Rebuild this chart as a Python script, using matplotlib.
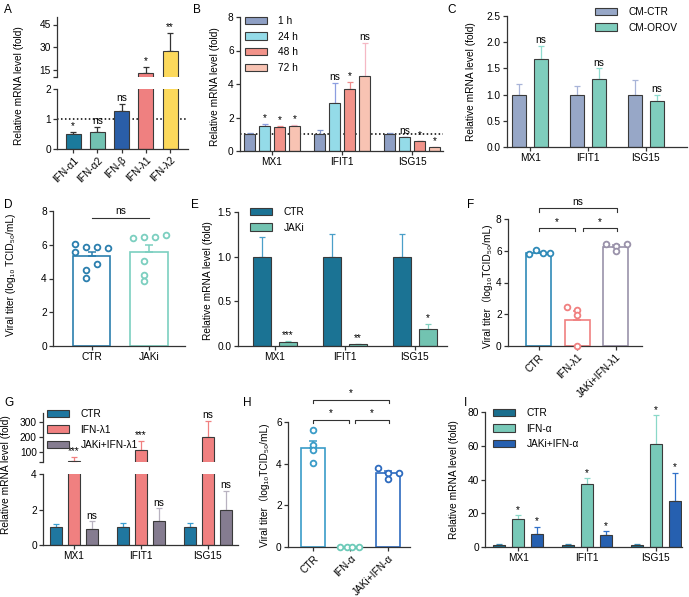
import numpy as np
import matplotlib
matplotlib.use("Agg")
import matplotlib.pyplot as plt
from matplotlib.patches import Patch

plt.rcParams['font.family'] = ['Liberation Sans', 'Noto Sans CJK SC', 'DejaVu Sans']
FS = 7.3
W, H = 689, 597
INK = '#333333'

# ---------------- data ----------------
genes = ["MX1", "IFIT1", "ISG15"]

# A: IFN expression
a_labels = ["IFN-α1", "IFN-α2", "IFN-β", "IFN-λ1", "IFN-λ2"]
a_mean = [0.5, 0.55, 1.28, 12.5, 27.5]
a_err = [0.08, 0.18, 0.22, 4.5, 12.0]
a_sig = ["*", "ns", "ns", "*", "**"]

# B: time course
b_times = ["1 h", "24 h", "48 h", "72 h"]
b_mean = [[1.0, 1.0, 1.0], [1.5, 2.85, 0.82], [1.45, 3.68, 0.6], [1.5, 4.47, 0.21]]
b_err = [[0.05, 0.25, 0.1], [0.1, 1.2, 0.04], [0.06, 0.43, 0.0], [0.05, 2.0, 0.02]]
b_sig = [["", "", ""], ["*", "ns", "ns"], ["*", "*", "*"], ["*", "ns", "*"]]

# C: conditioned medium
c_groups = ["CM-CTR", "CM-OROV"]
c_ctr = [1.0, 1.0, 1.0]
c_ctr_err = [0.21, 0.17, 0.27]
c_orov = [1.67, 1.3, 0.87]
c_orov_err = [0.26, 0.2, 0.13]
c_sig = ["ns", "ns", "ns"]

# D: viral titer, CTR vs JAKi
d_groups = ["CTR", "JAKi"]
d_mean = [5.32, 5.6]
d_err = [0.25, 0.4]
d_ctr_pts = [6.05, 5.6, 5.85, 5.85, 5.8, 4.52, 4.85, 4.05]
d_jaki_pts = [6.4, 6.45, 6.45, 6.55, 5.03, 4.22, 3.85]

# E: JAKi effect on ISGs
e_groups = ["CTR", "JAKi"]
e_ctr = [1.0, 1.0, 1.0]
e_ctr_err = [0.22, 0.25, 0.25]
e_jaki = [0.04, 0.02, 0.19]
e_jaki_err = [0.02, 0.005, 0.06]
e_sig = ["***", "**", "*"]

# F: viral titer with IFN-λ1
f_groups = ["CTR", "IFN-λ1", "JAKi+IFN-λ1"]
f_mean = [5.85, 1.65, 6.25]
f_err = [0.05, 0.55, 0.1]
f_pts = [[5.8, 6.05, 5.85, 5.85], [2.45, 2.25, 1.95, 0.0], [6.45, 6.3, 6.0, 6.4]]

# G: ISGs with IFN-λ1
g_groups = ["CTR", "IFN-λ1", "JAKi+IFN-λ1"]
g_ctr = [1.0, 1.0, 1.0]
g_ctr_err = [0.18, 0.22, 0.24]
g_ifn = [40, 115, 200]
g_ifn_err = [26, 58, 106]
g_jaki = [0.92, 1.38, 1.97]
g_jaki_err = [0.42, 0.68, 1.07]
g_ifn_sig = ["***", "***", "ns"]
g_jaki_sig = ["ns", "ns", "ns"]

# H: viral titer with IFN-α
h_groups = ["CTR", "IFN-α", "JAKi+IFN-α"]
h_mean = [4.75, 0.0, 3.55]
h_err = [0.35, 0.0, 0.1]
h_pts = [[5.6, 4.9, 4.65, 4.05], [0.0, 0.0, 0.0, 0.0], [3.8, 3.55, 3.25, 3.55]]

# I: ISGs with IFN-α
i_groups = ["CTR", "IFN-α", "JAKi+IFN-α"]
i_ctr = [1.0, 1.0, 1.0]
i_ctr_err = [0.5, 0.5, 0.5]
i_ifn = [16.5, 37.5, 61]
i_ifn_err = [2.2, 3.2, 17]
i_jaki = [8, 7, 27.5]
i_jaki_err = [3.7, 2.3, 16.5]
i_sig = ["*", "*", "*"]

fig = plt.figure(figsize=(W / 100, H / 100), dpi=100)


def add_ax(l, t, r, b):
    ax = fig.add_axes([l / W, 1 - b / H, (r - l) / W, (b - t) / H])
    for s in ['top', 'right']:
        ax.spines[s].set_visible(False)
    for s in ['left', 'bottom']:
        ax.spines[s].set_linewidth(0.9)
        ax.spines[s].set_color(INK)
    ax.tick_params(labelsize=FS, length=3, width=0.9, pad=1.5, color=INK)
    ax.patch.set_alpha(0)
    return ax


def bars(ax, x, mean, err, face, ecol, width, sig=None, edge='#3a3a3a', lw=0.8):
    x = np.asarray(x, dtype=float)
    ax.bar(x, mean, width, color=face, edgecolor=edge, linewidth=lw, zorder=2)
    ax.errorbar(x, mean, yerr=[np.zeros(len(mean)), err], fmt='none', ecolor=ecol,
                elinewidth=0.9, capsize=2.5, capthick=0.9, zorder=1.5)
    if sig:
        for xi, m, e, s in zip(x, mean, err, sig):
            if s:
                ax.annotate(s, (xi, m + e), xytext=(0, 0.5), textcoords='offset points',
                            ha='center', va='bottom', fontsize=FS)


def ylab(x, y, text):
    fig.text(x / W, 1 - y / H, text, rotation=90, ha='center', va='center', fontsize=FS)


def letter(x, y, t):
    fig.text(x / W, 1 - y / H, t, ha='left', va='center', fontsize=8.5)


def legend(labels, faces, x, y):
    handles = [Patch(facecolor=f, edgecolor='#3a3a3a', linewidth=0.8) for f in faces]
    fig.legend(handles, labels, loc='upper left', bbox_to_anchor=(x / W, 1 - y / H),
               bbox_transform=fig.transFigure, frameon=False, fontsize=FS,
               handlelength=2.2, handleheight=0.7, handletextpad=1.1,
               labelspacing=0.55, borderpad=0, borderaxespad=0)


def bracket(ax, x0, x1, y, h, text, hooks=True):
    if hooks:
        ax.plot([x0, x0, x1, x1], [y - h, y, y, y - h], color=INK, lw=0.8, clip_on=False)
    else:
        ax.plot([x0, x1], [y, y], color=INK, lw=0.8, clip_on=False)
    ax.annotate(text, ((x0 + x1) / 2, y), xytext=(0, 1), textcoords='offset points',
                ha='center', va='bottom', fontsize=FS, annotation_clip=False)


def points(ax, x, ys, offs, col):
    ax.scatter(np.full(len(ys), x) + np.asarray(offs[:len(ys)]), ys, s=17, facecolors='white',
               edgecolors=col, linewidths=1.3, zorder=3, clip_on=False)


def dotted(ax):
    ax.axhline(1, color='black', lw=1.1, ls=(0, (1, 1.6)), zorder=1)


# ---------------- A ----------------
a_cols = ['#1b7a9c', '#72c2b2', '#2a5ea8', '#ef8080', '#fcd95c']
axA1 = add_ax(57, 89, 188, 149)
axA2 = add_ax(57, 17, 188, 77)
xa = np.arange(len(a_labels))
for ax in (axA1, axA2):
    bars(ax, xa, a_mean, a_err, a_cols, INK, 0.62)
    ax.set_xlim(-0.66, 4.73)
for xi, m, e, s in zip(xa, a_mean, a_err, a_sig):
    ax = axA1 if m + e < 2 else axA2
    ax.annotate(s, (xi, m + e), xytext=(0, 0.5), textcoords='offset points',
                ha='center', va='bottom', fontsize=FS)
axA1.set_ylim(0, 2)
axA1.set_yticks([0, 1, 2])
dotted(axA1)
axA1.set_xticks(xa)
axA1.set_xticklabels(a_labels, rotation=45, ha='right', rotation_mode='anchor')
axA2.set_ylim(10, 50)
axA2.set_yticks([10, 15, 30, 45])
axA2.set_yticklabels(['', '15', '30', '45'])
axA2.spines['bottom'].set_visible(False)
axA2.set_xticks([])
ylab(19, 86, "Relative mRNA level (fold)")
letter(4, 10, "A")

# ---------------- B ----------------
b_cols = ['#8e9fc4', '#94dbe8', '#f2938a', '#f8c3b3']
b_ecols = ['#7f92c8', '#8c9ee0', '#f08c8c', '#f5b8c4']
b_offs = [-0.32, -0.107, 0.107, 0.32]
axB = add_ax(240, 17, 443, 151)
xg = np.arange(len(genes))
for k in range(len(b_times)):
    bars(axB, xg + b_offs[k], b_mean[k], b_err[k], b_cols[k], b_ecols[k], 0.16, b_sig[k])
dotted(axB)
axB.set_xlim(-0.457, 2.44)
axB.set_ylim(0, 8)
axB.set_yticks([0, 2, 4, 6, 8])
axB.set_xticks(xg)
axB.set_xticklabels(genes)
ylab(215, 87, "Relative mRNA level (fold)")
legend(b_times, b_cols, 245, 16)
letter(193, 10, "B")

# ---------------- C ----------------
c_cols = ['#97a7c7', '#7fcdbd']
axC = add_ax(507, 16, 687, 147)
bars(axC, xg - 0.19, c_ctr, c_ctr_err, c_cols[0], '#a8b4d8', 0.24)
bars(axC, xg + 0.19, c_orov, c_orov_err, c_cols[1], '#8fdccf', 0.24, c_sig)
axC.set_xlim(-0.40, 2.71)
axC.set_ylim(0, 2.5)
axC.set_yticks([0, 0.5, 1.0, 1.5, 2.0, 2.5])
axC.set_xticks(xg)
axC.set_xticklabels(genes)
ylab(471, 82, "Relative mRNA level (fold)")
legend(c_groups, c_cols, 595, 7)
letter(447, 10, "C")

# ---------------- D ----------------
d_cols = ['#2b7fae', '#7ccfc0']
axD = add_ax(53, 211, 185, 346)
for i, (pts, offs) in enumerate(zip([d_ctr_pts, d_jaki_pts],
                                   [[-0.3, -0.3, -0.1, 0.09, 0.28, -0.1, 0.09, -0.1],
                                    [-0.28, -0.09, 0.1, 0.3, -0.09, -0.09, -0.09]])):
    axD.bar(i, d_mean[i], 0.65, color='white', edgecolor=d_cols[i], linewidth=1.2, zorder=2)
    axD.errorbar(i, d_mean[i], yerr=[[0], [d_err[i]]], fmt='none', ecolor=d_cols[i],
                 elinewidth=1.1, capsize=3, capthick=1.1, zorder=2.5)
    points(axD, i, pts, offs, d_cols[i])
axD.set_xlim(-0.68, 1.63)
axD.set_ylim(0, 8)
axD.set_yticks([0, 2, 4, 6, 8])
axD.set_xticks([0, 1])
axD.set_xticklabels(d_groups)
bracket(axD, 0, 1, 7.6, 0, "ns", hooks=False)
ylab(11, 275, "Viral titer (log₁₀ TCID₅₀/mL)")
letter(4, 205, "D")

# ---------------- E ----------------
e_cols = ['#1b7394', '#72c3b1']
axE = add_ax(238, 212, 447, 346)
bars(axE, xg - 0.186, e_ctr, e_ctr_err, e_cols[0], '#4a9fc8', 0.25)
bars(axE, xg + 0.186, e_jaki, e_jaki_err, e_cols[1], '#80d0c0', 0.25, e_sig)
axE.set_xlim(-0.53, 2.46)
axE.set_ylim(0, 1.5)
axE.set_yticks([0, 0.5, 1.0, 1.5])
axE.set_xticks(xg)
axE.set_xticklabels(genes)
ylab(208, 281, "Relative mRNA level (fold)")
legend(e_groups, e_cols, 250, 207)
letter(191, 205, "E")

# ---------------- F ----------------
f_cols = ['#2f8ab8', '#f08080', '#9a92aa']
f_offs = [[-0.26, -0.08, 0.1, 0.29], [-0.26, 0, 0, 0], [-0.26, 0, 0, 0.28]]
axF = add_ax(508, 219, 642, 346)
for i in range(3):
    axF.bar(i, f_mean[i], 0.65, color='white', edgecolor=f_cols[i], linewidth=1.2, zorder=2)
    axF.errorbar(i, f_mean[i], yerr=[[0], [f_err[i]]], fmt='none', ecolor=f_cols[i],
                 elinewidth=1.1, capsize=3, capthick=1.1, zorder=2.5)
    points(axF, i, f_pts[i], f_offs[i], f_cols[i])
axF.set_xlim(-0.8, 2.68)
axF.set_ylim(0, 8)
axF.set_yticks([0, 2, 4, 6, 8])
axF.set_xticks([0, 1, 2])
axF.set_xticklabels(f_groups, rotation=45, ha='right', rotation_mode='anchor')
bracket(axF, 0, 0.94, 7.43, 0.2, "*")
bracket(axF, 1.14, 2.03, 7.43, 0.2, "*")
bracket(axF, 0, 2.03, 8.69, 0.25, "ns")
ylab(488, 286, "Viral titer（log₁₀TCID₅₀/mL)")
letter(467, 205, "F")

# ---------------- G ----------------
g_cols = ['#1f77a0', '#f08080', '#857c90']
g_ecols = ['#3a9ed0', '#f08080', '#b8b2c0']
axG1 = add_ax(43, 474, 238, 545)
axG2 = add_ax(43, 413, 238, 462)
for ax, upper in ((axG1, False), (axG2, True)):
    bars(ax, xg - 0.27, g_ctr, g_ctr_err, g_cols[0], g_ecols[0], 0.18)
    bars(ax, xg, g_ifn, g_ifn_err, g_cols[1], g_ecols[1], 0.18,
         g_ifn_sig if upper else None)
    bars(ax, xg + 0.27, g_jaki, g_jaki_err, g_cols[2], g_ecols[2], 0.18,
         None if upper else g_jaki_sig)
    ax.set_xlim(-0.46, 2.45)
axG1.set_ylim(0, 4)
axG1.set_yticks([0, 2, 4])
axG1.set_xticks(xg)
axG1.set_xticklabels(genes)
axG2.set_ylim(33, 360)
axG2.set_yticks([33, 100, 200, 300])
axG2.set_yticklabels(['', '100', '200', '300'])
axG2.spines['bottom'].set_visible(False)
axG2.set_xticks([])
ylab(6, 475, "Relative mRNA level (fold)")
legend(g_groups, g_cols, 47, 409)
letter(4, 403, "G")

# ---------------- H ----------------
h_cols = ['#3a9cc8', '#6ccab8', '#2e6bbf']
h_offs = [[0, 0, 0, 0], [-0.29, -0.1, 0.05, 0.24], [-0.27, 0, 0, 0.29]]
axH = add_ax(288, 422, 410, 547)
for i in range(3):
    axH.bar(i, h_mean[i], 0.64, color='white', edgecolor=h_cols[i], linewidth=1.2, zorder=2)
    if h_err[i] > 0:
        axH.errorbar(i, h_mean[i], yerr=[[0], [h_err[i]]], fmt='none', ecolor=h_cols[i],
                     elinewidth=1.1, capsize=3, capthick=1.1, zorder=2.5)
    points(axH, i, h_pts[i], h_offs[i], h_cols[i])
axH.set_xlim(-0.67, 2.59)
axH.set_ylim(0, 6)
axH.set_yticks([0, 2, 4, 6])
axH.set_xticks([0, 1, 2])
axH.set_xticklabels(h_groups, rotation=45, ha='right', rotation_mode='anchor')
bracket(axH, 0, 0.96, 6.1, 0.15, "*")
bracket(axH, 1.12, 2.03, 6.1, 0.15, "*")
bracket(axH, 0, 2.03, 7.06, 0.15, "*")
ylab(265, 485, "Viral titer（log₁₀TCID₅₀/mL)")
letter(243, 403, "H")

# ---------------- I ----------------
i_cols = ['#1b6f8e', '#78c9b8', '#2660b0']
axI = add_ax(485, 412, 682, 547)
bars(axI, xg - 0.275, i_ctr, i_ctr_err, i_cols[0], '#3a8ab0', 0.18)
bars(axI, xg, i_ifn, i_ifn_err, i_cols[1], '#8ad8c8', 0.18, i_sig)
bars(axI, xg + 0.275, i_jaki, i_jaki_err, i_cols[2], '#3070c8', 0.18, i_sig)
axI.set_xlim(-0.48, 2.38)
axI.set_ylim(0, 80)
axI.set_yticks([0, 20, 40, 60, 80])
axI.set_xticks(xg)
axI.set_xticklabels(genes)
ylab(454, 480, "Relative mRNA level (fold)")
legend(i_groups, i_cols, 493, 408)
letter(464, 403, "I")

fig.savefig("out.png", dpi=100)
